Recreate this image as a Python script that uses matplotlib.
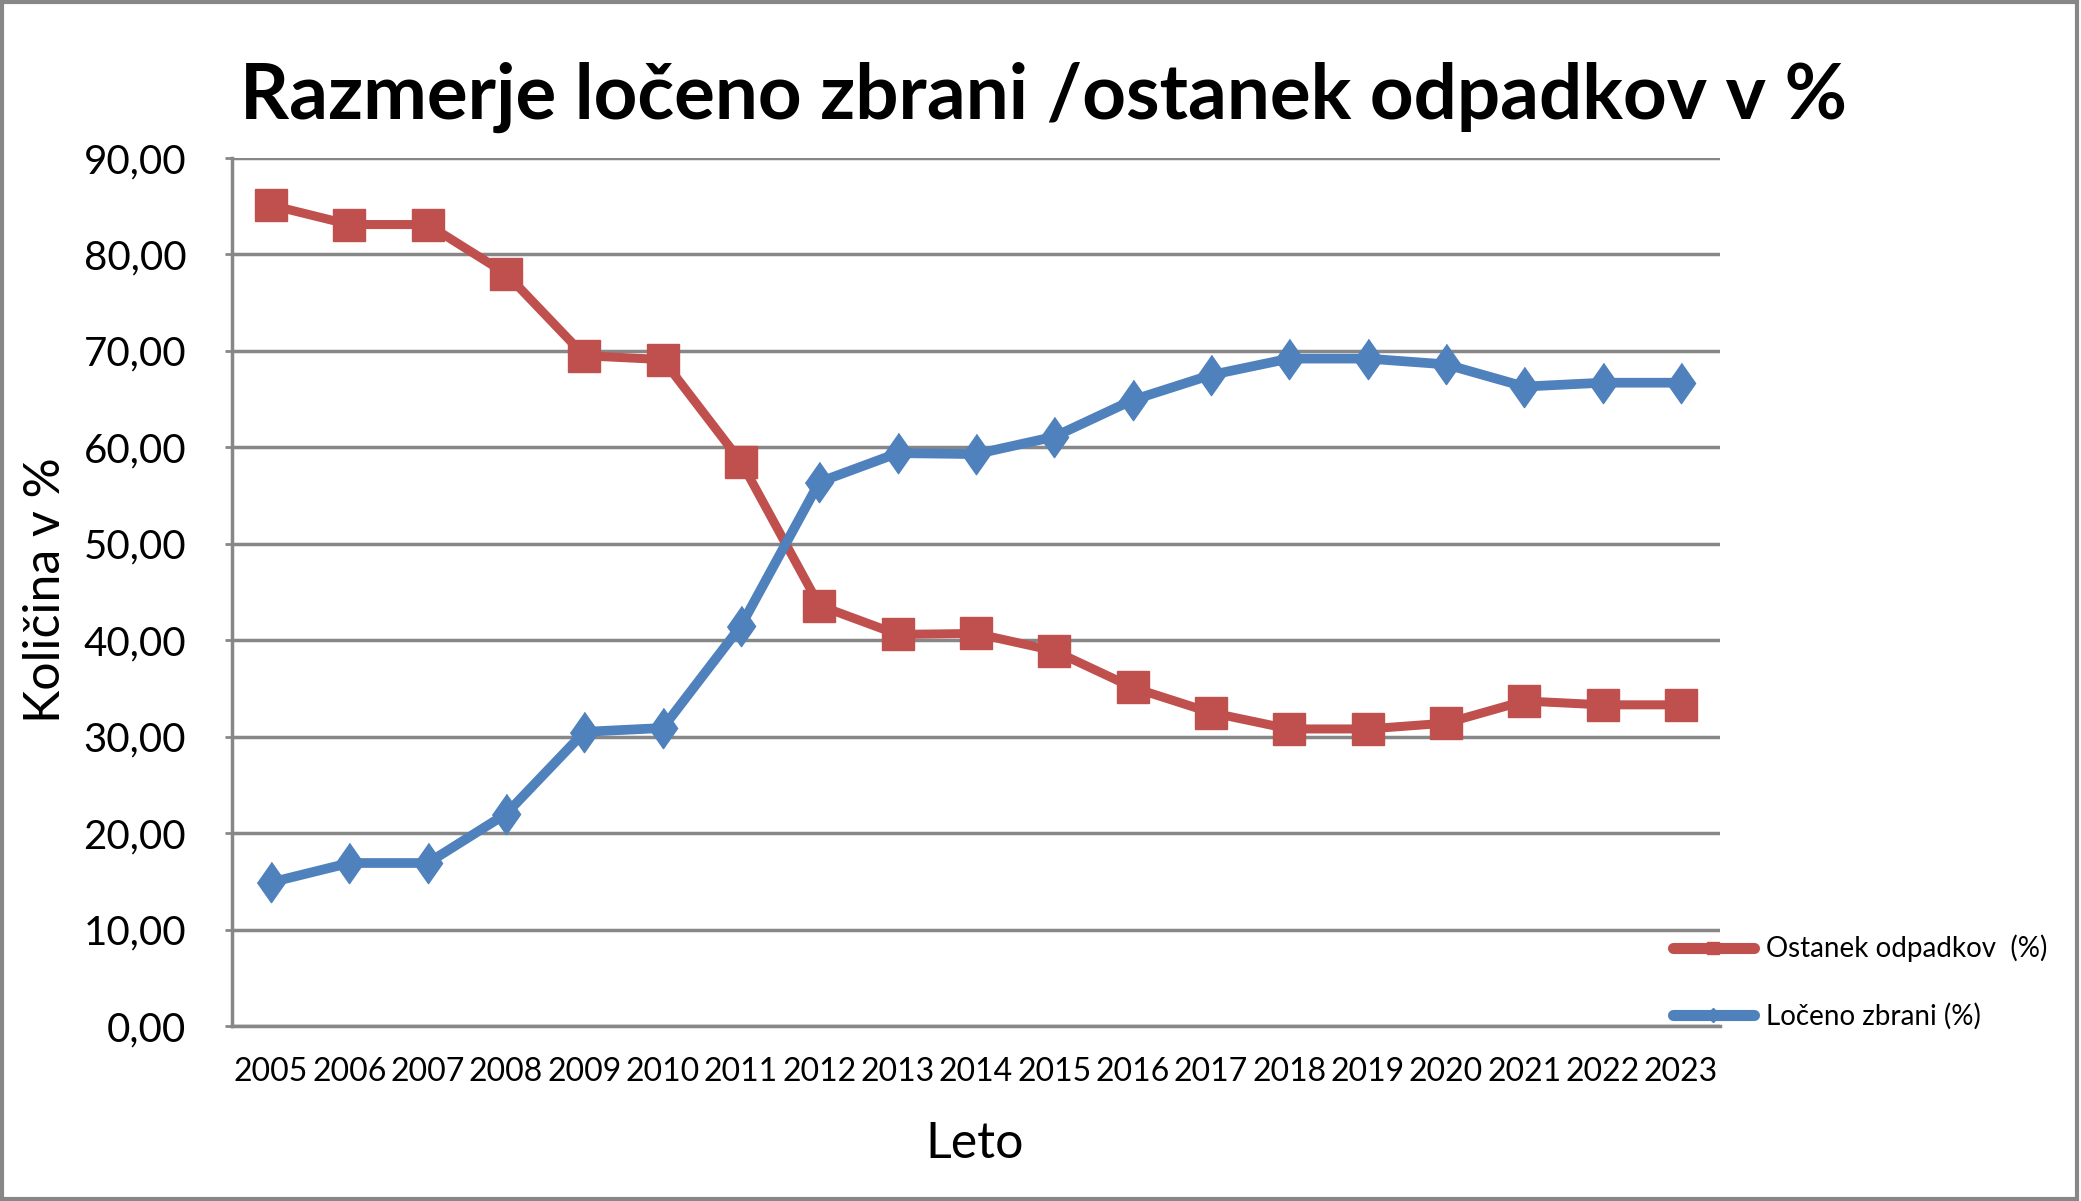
import matplotlib
matplotlib.use('Agg')
import matplotlib.pyplot as plt
from matplotlib.lines import Line2D
from matplotlib.patches import Rectangle

years = ['2005', '2006', '2007', '2008', '2009', '2010', '2011', '2012', '2013', '2014',
         '2015', '2016', '2017', '2018', '2019', '2020', '2021', '2022', '2023']
ostanek = [85.1, 83.1, 83.1, 78.0, 69.5, 69.1, 58.5, 43.6, 40.6, 40.7,
           38.9, 35.1, 32.5, 30.8, 30.8, 31.4, 33.7, 33.3, 33.3]
loceno = [14.9, 16.9, 16.9, 22.0, 30.5, 30.9, 41.5, 56.4, 59.4, 59.3,
          61.1, 64.9, 67.5, 69.2, 69.2, 68.6, 66.3, 66.7, 66.7]
yticks = [0, 10, 20, 30, 40, 50, 60, 70, 80, 90]

plt.rcParams['font.family'] = ['Lato', 'DejaVu Sans']

RED = '#C0504D'
BLUE = '#4F81BD'
GRID = '#878787'

W, H = 2081, 1201
fig = plt.figure(figsize=(W / 100, H / 100), dpi=100)
# axes box in pixels: left 232, right 1720, top 158, bottom 1026
ax = fig.add_axes([232 / W, 1 - 1026 / H, (1720 - 232) / W, (1026 - 158) / H])

x = list(range(len(years)))
diamond = [(0, 1), (0.7, 0), (0, -1), (-0.7, 0)]
ax.plot(x, ostanek, color=RED, lw=6.5, marker='s', ms=23, mec=RED, mfc=RED,
        solid_joinstyle='miter', zorder=3)
ax.plot(x, loceno, color=BLUE, lw=7, marker=diamond, ms=29, mec=BLUE, mfc=BLUE,
        solid_joinstyle='miter', zorder=4)

ax.set_xlim(-0.5, len(years) - 0.5)
ax.set_ylim(0, 90)
ax.set_yticks(yticks)
ax.set_yticklabels(['%d,00' % v for v in yticks], fontsize=29)
ax.set_xticks(x)
ax.set_xticklabels(years, fontsize=23)
ax.tick_params(axis='y', length=5, width=2, color=GRID, pad=28)
ax.tick_params(axis='x', length=0, pad=22)
ax.grid(axis='y', color=GRID, lw=2.5)
ax.set_axisbelow(True)
for s in ['top', 'right']:
    ax.spines[s].set_visible(False)
for s in ['left', 'bottom']:
    ax.spines[s].set_color(GRID)
    ax.spines[s].set_linewidth(2.5)

fig.text(1044 / W, 1 - 97 / H, 'Razmerje ločeno zbrani /ostanek odpadkov v %',
         fontsize=55, fontweight='bold', ha='center', va='center')
fig.text(975 / W, 1 - 1144 / H, 'Leto', fontsize=36, ha='center', va='center')
fig.text(46 / W, 1 - 590 / H, 'Količina v %', fontsize=36, ha='center', va='center',
         rotation=90)

handles = [
    Line2D([], [], color=RED, lw=8, marker='s', ms=8, solid_capstyle='round'),
    Line2D([], [], color=BLUE, lw=8, marker='D', ms=7, solid_capstyle='round'),
]
fig.legend(handles, ['Ostanek odpadkov  (%)', 'Ločeno zbrani (%)'],
           loc='center left', bbox_to_anchor=(1648 / W, 1 - 982 / H),
           frameon=False, fontsize=20, handlelength=2.9, handletextpad=0.45,
           labelspacing=1.45)

fig.patches.append(Rectangle((0.001, 0.002), 0.997, 0.996, transform=fig.transFigure,
                             fill=False, edgecolor=GRID, lw=3))

fig.savefig('out.png', dpi=100)
